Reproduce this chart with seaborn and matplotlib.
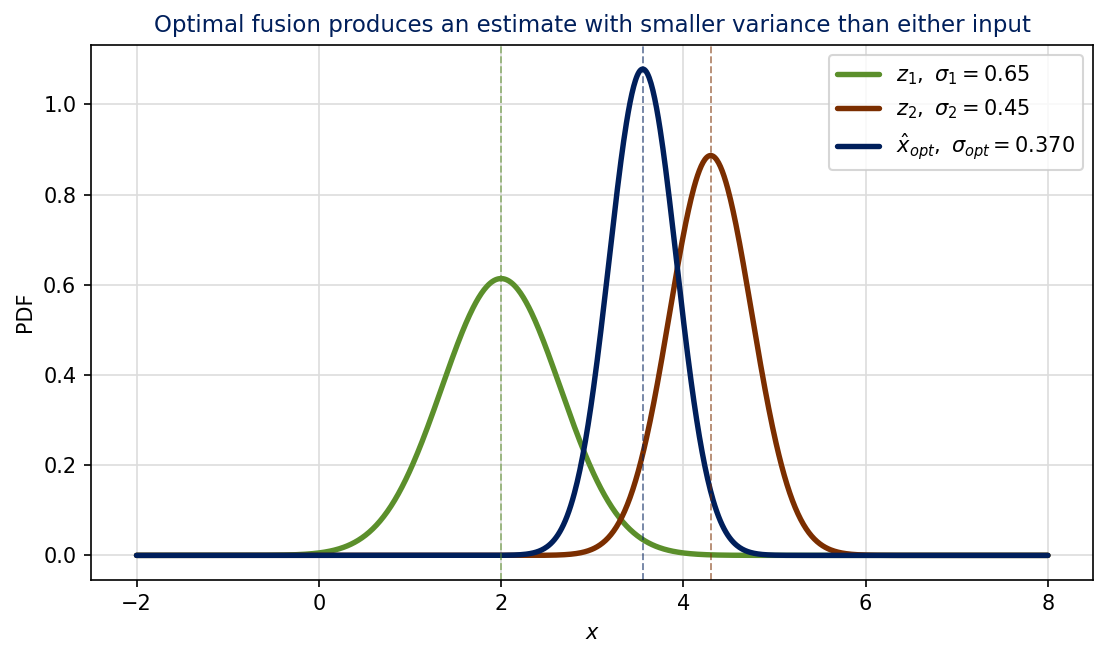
import numpy as np
import pandas as pd
import matplotlib
matplotlib.use('Agg')
import matplotlib.pyplot as plt
import seaborn as sns

z1, sigma1 = 2.0, 0.65
z2, sigma2 = 4.3, 0.45
x_min, x_max = -2, 8

# Optimal (inverse-variance) fusion of the two measurements
w1 = sigma2**2 / (sigma1**2 + sigma2**2)
x_opt = w1 * z1 + (1 - w1) * z2
sigma_opt = np.sqrt(sigma1**2 * sigma2**2 / (sigma1**2 + sigma2**2))

colors = ['#5b8f2b', '#7b2e00', '#001f5b']
labels = [r'$z_1,\ \sigma_1 = 0.65$',
          r'$z_2,\ \sigma_2 = 0.45$',
          r'$\hat{x}_{opt},\ \sigma_{opt} = %.3f$' % sigma_opt]
means = [z1, z2, x_opt]
sigmas = [sigma1, sigma2, sigma_opt]


def gauss(x, mu, s):
    return np.exp(-0.5 * ((x - mu) / s) ** 2) / (s * np.sqrt(2 * np.pi))


x = np.linspace(x_min, x_max, 1000)
frames = []
for mu, s, lab in zip(means, sigmas, labels):
    frames.append(pd.DataFrame({'x': x, 'pdf': gauss(x, mu, s), 'curve': lab}))
df = pd.concat(frames, ignore_index=True)

sns.set_style('ticks', {'axes.edgecolor': 'black', 'xtick.color': 'black',
                        'ytick.color': 'black', 'text.color': 'black',
                        'axes.labelcolor': 'black'})
fig, ax = plt.subplots(figsize=(1109 / 150, 658 / 150), dpi=150)
fig.subplots_adjust(left=0.082, right=0.986, top=0.932, bottom=0.119)

sns.lineplot(data=df, x='x', y='pdf', hue='curve', palette=colors,
             linewidth=2.6, ax=ax)

for mu, c in zip(means, colors):
    ax.axvline(mu, color=c, linestyle='--', linewidth=0.9, alpha=0.55)

ax.grid(True, color='#dddddd', linewidth=0.8)
ax.set_axisbelow(True)
ax.set_xlabel('$x$')
ax.set_ylabel('PDF')
ax.set_title('Optimal fusion produces an estimate with smaller variance than either input',
             color='#001f5b', fontsize=11)
ax.legend(loc='upper right', fontsize=10, title=None)

fig.savefig('out.png', dpi=150)
